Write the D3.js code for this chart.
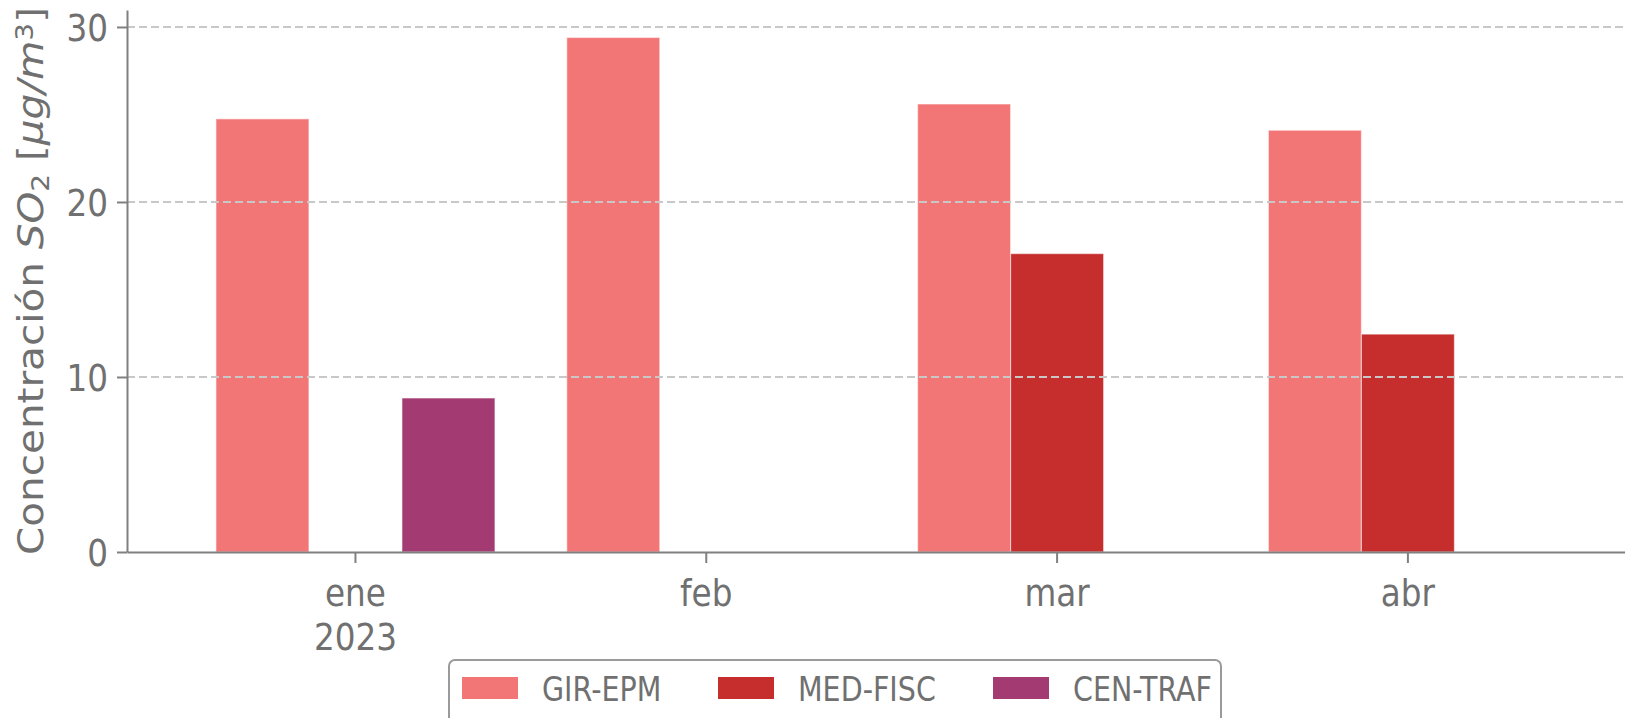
<!DOCTYPE html>
<html lang="es">
<head>
<meta charset="UTF-8">
<title>Concentración SO2</title>
<script src="https://cdn.jsdelivr.net/npm/d3@7"></script>
<style>
    body { margin: 0; background: #fff; }
    text { font-family: "DejaVu Sans", sans-serif; fill: #707070; }
</style>
</head>
<body>
<svg id="chart"></svg>
<script>
    // datos
    const months = ["ene", "feb", "mar", "abr"];
    const yearLabel = "2023";
    const seriesNames = ["GIR-EPM", "MED-FISC", "CEN-TRAF"];
    const girEpm = [24.75, 29.4, 25.6, 24.1];
    const medFisc = [null, null, 17.05, 12.45];
    const cenTraf = [8.8, null, null, null];
    const yTicks = [0, 10, 20, 30];
    const colors = ["#f37676", "#c62d2d", "#a33b72"];

    const W = 1625, H = 718;
    const mLeft = 127, mRight = 1625, mTop = 10, mBottom = 552;
    const sx = 0.86; // el texto del original esta algo estrecho

    const svg = d3.select("#chart").attr("width", W).attr("height", H);

    const rows = months.map((m, i) => ({
        month: m,
        values: [girEpm[i], medFisc[i], cenTraf[i]]
    }));

    const x = d3.scaleBand().domain(months).range([mLeft, mRight])
        .paddingInner(0).paddingOuter(0.135).align(0.56);
    const x1 = d3.scaleBand().domain(seriesNames).range([0, x.bandwidth()])
        .paddingInner(0).paddingOuter(0.386);
    const y = d3.scaleLinear().domain([0, 30.97]).range([mBottom, mTop]);

    // barras
    const groups = svg.append("g").selectAll("g")
        .data(rows).enter().append("g")
        .attr("transform", d => "translate(" + x(d.month) + ",0)");
    groups.selectAll("rect")
        .data(d => d.values.map((v, j) => ({ name: seriesNames[j], v: v, j: j })).filter(e => e.v != null))
        .enter().append("rect")
        .attr("x", e => x1(e.name))
        .attr("width", x1.bandwidth())
        .attr("y", e => y(e.v))
        .attr("height", e => mBottom - y(e.v))
        .attr("fill", e => colors[e.j])
        .attr("stroke", "#ffffff")
        .attr("stroke-opacity", 0.5)
        .attr("stroke-width", 1.2);

    // rejilla
    svg.append("g").selectAll("line")
        .data(yTicks.filter(t => t > 0)).enter().append("line")
        .attr("x1", mLeft).attr("x2", mRight)
        .attr("y1", d => y(d)).attr("y2", d => y(d))
        .attr("stroke", "#c8c8c8").attr("stroke-width", 2)
        .attr("stroke-dasharray", "8,4");

    // eje y
    const gy = svg.append("g").attr("transform", "translate(" + mLeft + ",0)")
        .call(d3.axisLeft(y).tickValues(yTicks).tickSize(10).tickSizeOuter(0).tickPadding(0));
    gy.select(".domain").attr("stroke", "#808080").attr("stroke-width", 2);
    gy.selectAll(".tick line").attr("stroke", "#808080").attr("stroke-width", 2);
    gy.selectAll(".tick text")
        .attr("x", -19 / sx).attr("dy", "0.36em")
        .attr("transform", "scale(" + sx + ",1)")
        .style("font-size", "38px").style("font-family", "DejaVu Sans").attr("fill", "#707070");

    // eje x
    const gx = svg.append("g").attr("transform", "translate(0," + mBottom + ")")
        .call(d3.axisBottom(x).tickSize(11).tickSizeOuter(0));
    gx.select(".domain").attr("stroke", "#808080").attr("stroke-width", 2);
    gx.selectAll(".tick line").attr("stroke", "#808080").attr("stroke-width", 2);
    gx.selectAll(".tick text").each(function (d, i) {
        const t = d3.select(this).text(null)
            .attr("y", 0).attr("dy", null)
            .attr("transform", "scale(" + sx + ",1)")
            .style("font-size", "38px").style("font-family", "DejaVu Sans").attr("fill", "#707070");
        t.append("tspan").attr("x", 0).attr("y", 54).text(d);
        if (i === 0) t.append("tspan").attr("x", 0).attr("y", 98).text(yearLabel);
    });

    // titulo del eje y
    const lab = svg.append("text")
        .attr("transform", "translate(43,281) scale(" + sx + ",1) rotate(-90)")
        .attr("text-anchor", "middle")
        .style("font-size", "40.5px");
    lab.append("tspan").text("Concentración ");
    lab.append("tspan").style("font-style", "italic").text("SO");
    lab.append("tspan").attr("baseline-shift", "-22%").style("font-size", "28px").text("2");
    lab.append("tspan").text(" [");
    lab.append("tspan").style("font-style", "italic").text("μg/m");
    lab.append("tspan").attr("baseline-shift", "42%").style("font-size", "28px").text("3");
    lab.append("tspan").text("]");

    // leyenda
    const legend = svg.append("g");
    legend.append("rect")
        .attr("x", 449).attr("y", 660).attr("width", 772).attr("height", 80)
        .attr("rx", 6).attr("fill", "#fff").attr("fill-opacity", 0.8)
        .attr("stroke", "#9a9a9a").attr("stroke-width", 2);
    const legX = [462, 718, 993];
    const items = legend.selectAll("g.item").data(seriesNames).enter().append("g")
        .attr("class", "item")
        .attr("transform", (d, i) => "translate(" + legX[i] + ",677)");
    items.append("rect").attr("width", 56).attr("height", 22)
        .attr("fill", (d, i) => colors[i]);
    items.append("text")
        .attr("transform", "translate(80,24) scale(0.84,1)")
        .style("font-size", "34px")
        .text(d => d);
</script>
</body>
</html>
